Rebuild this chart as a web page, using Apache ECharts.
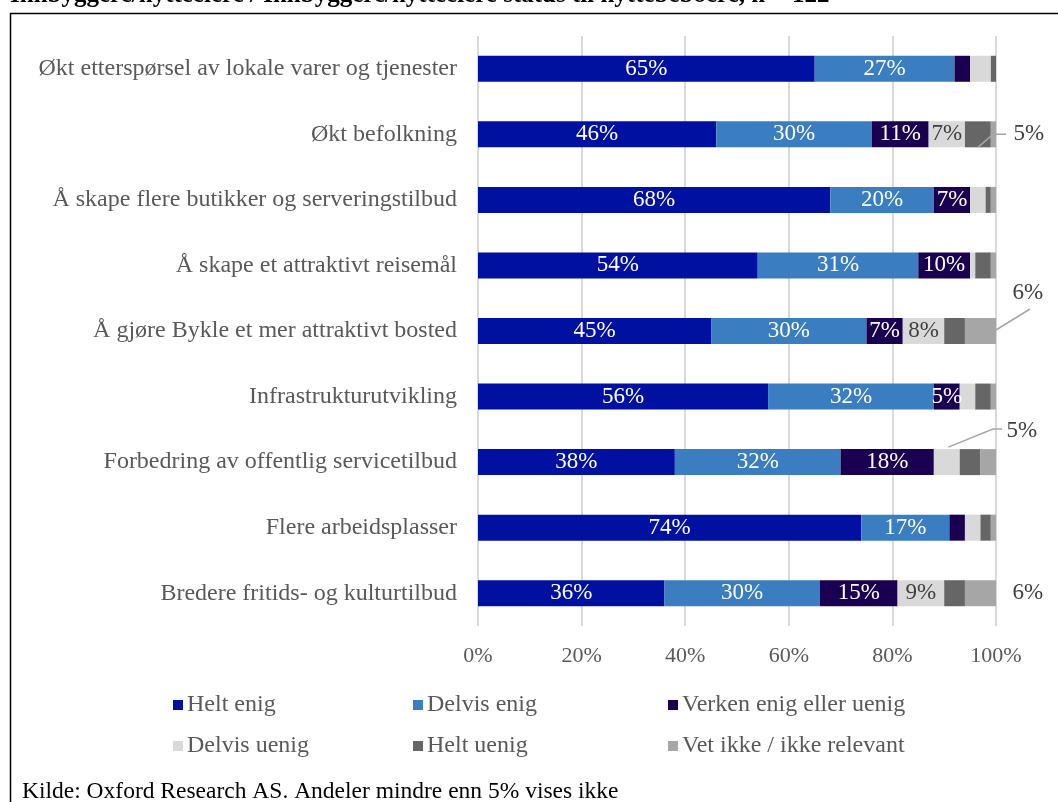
<!DOCTYPE html>
<html>
<head>
<meta charset="utf-8">
<script src="https://cdn.jsdelivr.net/npm/echarts@6/dist/echarts.min.js"></script>
<style>
  html, body { margin: 0; padding: 0; background: #fff; }
  #chart { width: 1058px; height: 802px; }
</style>
</head>
<body>
<div id="chart"></div>
<script>
// Statements, top to bottom
const categories = [
  'Økt etterspørsel av lokale varer og tjenester',
  'Økt befolkning',
  'Å skape flere butikker og serveringstilbud',
  'Å skape et attraktivt reisemål',
  'Å gjøre Bykle et mer attraktivt bosted',
  'Infrastrukturutvikling',
  'Forbedring av offentlig servicetilbud',
  'Flere arbeidsplasser',
  'Bredere fritids- og kulturtilbud'
];

// Shares in percent per answer option
const heltEnig     = [65, 46, 68, 54, 45, 56, 38, 74, 36];
const delvisEnig   = [27, 30, 20, 31, 30, 32, 32, 17, 30];
const verken       = [3, 11, 7, 10, 7, 5, 18, 3, 15];
const delvisUenig  = [4, 7, 3, 1, 8, 3, 5, 3, 9];
const heltUenig    = [1, 5, 1, 3, 4, 3, 4, 2, 4];
const vetIkke      = [0, 1, 1, 1, 6, 1, 3, 1, 6];

const seriesNames = ['Helt enig', 'Delvis enig', 'Verken enig eller uenig',
                     'Delvis uenig', 'Helt uenig', 'Vet ikke / ikke relevant'];
const xTicks = [0, 20, 40, 60, 80, 100];

const FONT = '"Liberation Serif", "Times New Roman", serif';
const colors = ['#0010A0', '#3A7DC0', '#1A0050', '#D9D9D9', '#666666', '#A6A6A6'];
const labelColors = ['#FFFFFF', '#FFFFFF', '#FFFFFF', '#404040', '#404040', '#404040'];
const seriesData = [heltEnig, delvisEnig, verken, delvisUenig, heltUenig, vetIkke];

// Labels that sit beside the bar instead of inside their segment
// key: seriesIndex-rowIndex, value: label offset relative to the segment
const outsideLabels = {
  '4-1': [64, 13],
  '5-4': [63, -25],
  '3-6': [88, -18],
  '5-8': [63, 13]
};

const series = seriesData.map((vals, si) => ({
  name: seriesNames[si],
  type: 'bar',
  stack: 'total',
  barWidth: 26,
  itemStyle: { color: colors[si] },
  label: {
    show: true,
    position: 'inside',
    color: labelColors[si],
    fontFamily: FONT,
    fontSize: 23,
    formatter: p => (p.value >= 5 ? p.value + '%' : '')
  },
  data: vals.map((v, ri) => {
    const off = outsideLabels[si + '-' + ri];
    if (!off) return v;
    return {
      value: v,
      label: { position: off, align: 'center', verticalAlign: 'middle', color: '#404040' }
    };
  })
}));

const legendPos = [
  [173, 693], [413, 693], [668, 693],
  [173, 734], [413, 734], [668, 734]
];
const legends = seriesNames.map((n, i) => ({
  data: [n],
  left: legendPos[i][0],
  top: legendPos[i][1],
  padding: 0,
  icon: 'rect',
  itemWidth: 10,
  itemHeight: 10,
  selectedMode: false,
  textStyle: { fontFamily: FONT, fontSize: 24, color: '#595959', padding: [0, 0, 0, -1] }
}));

const chart = echarts.init(document.getElementById('chart'));
chart.setOption({
  animation: false,
  backgroundColor: '#ffffff',
  grid: { left: 478, right: 62, top: 36, bottom: 176, containLabel: false },
  xAxis: {
    type: 'value',
    min: xTicks[0],
    max: xTicks[xTicks.length - 1],
    interval: 20,
    axisLine: { show: false },
    axisTick: { show: false },
    splitLine: { show: true, lineStyle: { color: '#D9D9D9', width: 2 } },
    axisLabel: {
      formatter: v => v + '%',
      fontFamily: FONT, fontSize: 22, color: '#595959', margin: 19
    }
  },
  yAxis: {
    type: 'category',
    inverse: true,
    data: categories,
    axisLine: { show: false },
    axisTick: { show: false },
    axisLabel: { fontFamily: FONT, fontSize: 24, color: '#595959', margin: 21 }
  },
  legend: legends,
  series: series
});

// Leader lines from the moved labels to their segments
function px(v, row) { return chart.convertToPixel({ gridIndex: 0 }, [v, row]); }
const half = 13;
const lineStyle = { stroke: '#A6A6A6', lineWidth: 1.5, fill: null };
const a = px(96.5, 1), e1 = px(100, 1);
const b = px(100, 4);
const c = px(90.8, 6), e3 = px(100, 6);
const leaders = [
  [[a[0], a[1] + half], [e1[0] - 3, e1[1]], [e1[0] + 10, e1[1]]],
  [[b[0], b[1] - 1], [b[0] + 34, b[1] - 22]],
  [[c[0], c[1] - half - 2], [e3[0] - 3, e3[1] - 33], [e3[0] + 6, e3[1] - 33]]
];

chart.setOption({
  graphic: [
    ...leaders.map(pts => ({
      type: 'polyline', silent: true, z: 10,
      shape: { points: pts }, style: lineStyle
    })),
    // Frame
    { type: 'line', silent: true, shape: { x1: 10.5, y1: 13, x2: 10.5, y2: 802 },
      style: { stroke: '#000', lineWidth: 1.5 } },
    { type: 'line', silent: true, shape: { x1: 10, y1: 13.5, x2: 1058, y2: 13.5 },
      style: { stroke: '#000', lineWidth: 1.5 } },
    // Heading (top edge of the page)
    { type: 'text', silent: true, left: 10, top: -17,
      style: { text: 'Innbyggere/hytteeiere / Innbyggere/hytteeiere status til hyttebeboere, n = 122',
               font: 'bold 25px ' + FONT, fill: '#000' } },
    // Source note
    { type: 'text', silent: true, left: 22, top: 780,
      style: { text: 'Kilde: Oxford Research AS. Andeler mindre enn 5% vises ikke',
               font: '23.5px ' + FONT, fill: '#000' } }
  ]
});
</script>
</body>
</html>
